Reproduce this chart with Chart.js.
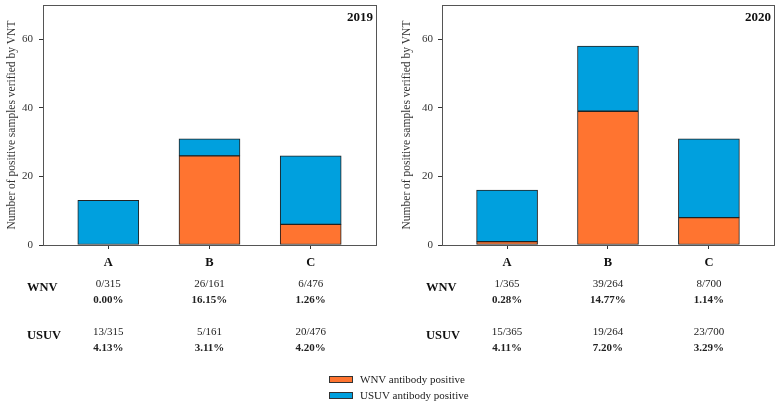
<!DOCTYPE html>
<html lang="en">
<head>
  <meta charset="UTF-8" />
  <title>WNV / USUV positive samples</title>
  <script src="https://cdn.jsdelivr.net/npm/chart.js"></script>
  <style>
    :root {
      --orange: #ff7430;
      --blue: #00a0de;
      --font: 'Liberation Serif', 'DejaVu Serif', serif;
    }
    * { box-sizing: border-box; margin: 0; padding: 0; }
    body {
      width: 781px;
      height: 404px;
      background: #fff;
      font-family: var(--font);
      position: relative;
      overflow: hidden;
    }
    #chart2019 { position: absolute; left: 0; top: 0; }
    #chart2020 { position: absolute; left: 390px; top: 0; }
    .legend {
      position: absolute;
      left: 329px;
      top: 371px;
      font-size: 11px;
      color: #222;
      line-height: 16px;
    }
    .legend div { display: flex; align-items: center; }
    .legend span.box {
      display: inline-block;
      width: 24px;
      height: 7px;
      border: 1px solid #333;
      margin-right: 7px;
    }
  </style>
</head>
<body>
  <canvas id="chart2019" width="390" height="404"></canvas>
  <canvas id="chart2020" width="391" height="404"></canvas>
  <div class="legend">
    <div><span class="box" style="background: var(--orange)"></span>WNV antibody positive</div>
    <div><span class="box" style="background: var(--blue)"></span>USUV antibody positive</div>
  </div>

<script>
  // --- data ---
  const sites = ['A', 'B', 'C'];

  const wnv2019 = [0, 26, 6];
  const usuv2019 = [13, 5, 20];
  const wnv2020 = [1, 39, 8];
  const usuv2020 = [15, 19, 23];

  const wnvCounts2019 = ['0/315', '26/161', '6/476'];
  const wnvPct2019 = ['0.00%', '16.15%', '1.26%'];
  const usuvCounts2019 = ['13/315', '5/161', '20/476'];
  const usuvPct2019 = ['4.13%', '3.11%', '4.20%'];

  const wnvCounts2020 = ['1/365', '39/264', '8/700'];
  const wnvPct2020 = ['0.28%', '14.77%', '1.14%'];
  const usuvCounts2020 = ['15/365', '19/264', '23/700'];
  const usuvPct2020 = ['4.11%', '7.20%', '3.29%'];

  const yTicks = [0, 20, 40, 60];
  const yMax = 70;

  // --- drawing ---
  const FONT = "'Liberation Serif', 'DejaVu Serif', serif";
  const css = getComputedStyle(document.documentElement);
  const orange = css.getPropertyValue('--orange').trim();
  const blue = css.getPropertyValue('--blue').trim();

  // frame, year label and the table under each panel
  const panelExtras = {
    id: 'panelExtras',
    afterDraw(chart, args, opts) {
      const { ctx, chartArea: a } = chart;
      const xs = chart.scales.x;
      ctx.save();
      ctx.strokeStyle = '#555';
      ctx.lineWidth = 1;
      ctx.strokeRect(a.left + 0.5, a.top + 0.5, a.right - a.left - 1, a.bottom - a.top);

      ctx.fillStyle = '#111';
      ctx.font = `bold 13px ${FONT}`;
      ctx.textAlign = 'right';
      ctx.textBaseline = 'middle';
      ctx.fillText(opts.year, a.right - 4, a.top + 13);

      ctx.textAlign = 'left';
      ctx.font = `bold 12.5px ${FONT}`;
      ctx.fillText('WNV', opts.rowX, 288);
      ctx.fillText('USUV', opts.rowX, 336);

      ctx.textAlign = 'center';
      ctx.fillStyle = '#222';
      sites.forEach((s, i) => {
        const x = xs.getPixelForValue(i);
        ctx.font = `11px ${FONT}`;
        ctx.fillText(opts.wnvCounts[i], x, 284);
        ctx.fillText(opts.usuvCounts[i], x, 332);
        ctx.font = `bold 11px ${FONT}`;
        ctx.fillText(opts.wnvPct[i], x, 300);
        ctx.fillText(opts.usuvPct[i], x, 348);
      });
      ctx.restore();
    }
  };

  function makeChart(id, wnv, usuv, extras, axisWidth, titlePad, tickPad, rightPad) {
    const toPts = arr => arr.map((v, i) => ({ x: i, y: v }));
    return new Chart(document.getElementById(id), {
      type: 'bar',
      data: {
        datasets: [
          { label: 'WNV antibody positive', data: toPts(wnv), backgroundColor: orange,
            borderColor: '#222', borderWidth: 1, borderSkipped: false, barThickness: 61 },
          { label: 'USUV antibody positive', data: toPts(usuv), backgroundColor: blue,
            borderColor: '#222', borderWidth: 1, borderSkipped: false, barThickness: 61 }
        ]
      },
      options: {
        responsive: false,
        animation: false,
        devicePixelRatio: 1,
        layout: { padding: { top: 5, right: rightPad, bottom: 0, left: 0 } },
        plugins: {
          legend: { display: false },
          tooltip: { enabled: false },
          panelExtras: extras
        },
        scales: {
          x: {
            type: 'linear',
            stacked: true,
            bounds: 'data',
            offset: false,
            min: -0.645,
            max: 2.655,
            afterFit: s => { s.height = 159; s.paddingLeft = 0; s.paddingRight = 0; },
            afterBuildTicks: s => { s.ticks = sites.map((c, i) => ({ value: i })); },
            border: { display: false },
            grid: { display: true, offset: false, drawOnChartArea: false, drawTicks: true, tickLength: 4, color: '#333' },
            ticks: {
              padding: 6,
              color: '#111',
              font: { family: FONT, size: 12.5, weight: 'bold' },
              callback: v => sites[v] ?? ''
            }
          },
          y: {
            stacked: true,
            bounds: 'data',
            min: 0,
            max: yMax,
            afterFit: s => { s.width = axisWidth; s.paddingTop = 0; s.paddingBottom = 0; },
            border: { display: false },
            grid: { display: true, drawOnChartArea: false, drawTicks: true, tickLength: 4, color: '#333' },
            afterBuildTicks: s => { s.ticks = yTicks.map(v => ({ value: v })); },
            ticks: {
              padding: tickPad,
              color: '#333',
              font: { family: FONT, size: 11 }
            },
            title: {
              display: true,
              text: 'Number of positive samples verified by VNT',
              color: '#333',
              padding: { top: titlePad, bottom: 0 },
              font: { family: FONT, size: 11.5 }
            }
          }
        }
      },
      plugins: [panelExtras]
    });
  }

  makeChart('chart2019', wnv2019, usuv2019, {
    year: '2019', rowX: 27,
    wnvCounts: wnvCounts2019, wnvPct: wnvPct2019,
    usuvCounts: usuvCounts2019, usuvPct: usuvPct2019
  }, 43, 5, 6, 13);

  makeChart('chart2020', wnv2020, usuv2020, {
    year: '2020', rowX: 36,
    wnvCounts: wnvCounts2020, wnvPct: wnvPct2020,
    usuvCounts: usuvCounts2020, usuvPct: usuvPct2020
  }, 52, 10, 5, 6);
</script>
</body>
</html>
